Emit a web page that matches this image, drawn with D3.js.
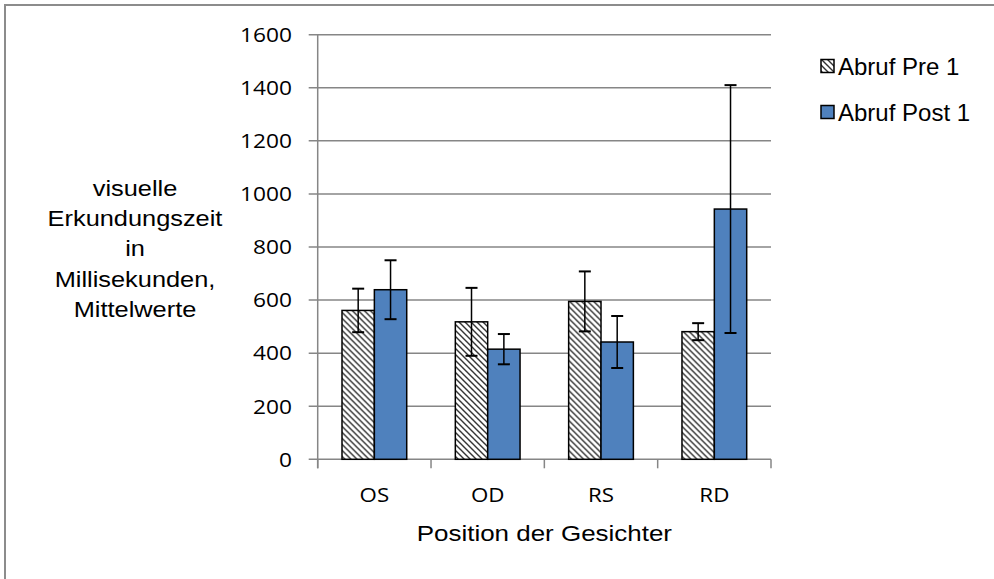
<!DOCTYPE html>
<html>
<head>
<meta charset="utf-8">
<script src="https://cdn.jsdelivr.net/npm/d3@7"></script>
<style>
  html, body { margin: 0; padding: 0; background: #fff; }
  svg { display: block; }
</style>
</head>
<body>
<svg id="chart" width="994" height="579"></svg>
<script>
const categories = ["OS", "OD", "RS", "RD"];
const seriesNames = ["Abruf Pre 1", "Abruf Post 1"];
const preValues = [561, 518, 595, 481];
const postValues = [639, 415, 442, 943];
const preErrors = [82, 128, 113, 32];
const postErrors = [111, 57, 98, 467];
const yTicks = [0, 200, 400, 600, 800, 1000, 1200, 1400, 1600];
const xTitle = "Position der Gesichter";
const yTitleLines = ["visuelle", "Erkundungszeit", "in", "Millisekunden,", "Mittelwerte"];

const svg = d3.select("#chart");
const plot = { left: 317.7, right: 771, top: 34.7, bottom: 459.3 };
const SX = 1.18;
const arial = "'Liberation Sans', Arial, sans-serif";
const calibri = "'Open Sans', sans-serif";
const gridColor = "#868686";
const blue = "#4F81BD";

const defs = svg.append("defs");
const P = 6;
const pat = defs.append("pattern")
  .attr("id", "hatch")
  .attr("patternUnits", "userSpaceOnUse")
  .attr("width", P).attr("height", P);
pat.append("rect").attr("width", P).attr("height", P).attr("fill", "#fff");
pat.append("path")
  .attr("d", `M-1,-1 L${P + 1},${P + 1} M-1,${P - 1} L1,${P + 1} M${P - 1},-1 L${P + 1},1`)
  .attr("stroke", "#333").attr("stroke-width", 1.4);

svg.append("rect").attr("x", 5).attr("y", 5).attr("width", 1100).attr("height", 700)
  .attr("fill", "none").attr("stroke", "#8c8c8c").attr("stroke-width", 2);

const y = d3.scaleLinear().domain([0, 1600]).range([plot.bottom, plot.top]);
const x0 = d3.scaleBand().domain(categories).range([plot.left, plot.right]).padding(0);
const x1 = d3.scaleBand().domain(seriesNames).range([24.3, x0.bandwidth() - 24.3]).padding(0);

function stretchedText(g, xPos, yPos, str, opts) {
  return g.append("g").attr("transform", `translate(${xPos},${yPos}) scale(${opts.sx || SX},1)`)
    .append("text")
    .attr("x", 0).attr("y", 0)
    .attr("text-anchor", opts.anchor || "middle")
    .attr("font-family", opts.font || arial)
    .attr("font-size", opts.size || 22)
    .attr("fill", "#000")
    .text(str);
}

const grid = svg.append("g");
grid.selectAll("line").data(yTicks).join("line")
  .attr("x1", plot.left - 9).attr("x2", plot.right)
  .attr("y1", d => y(d)).attr("y2", d => y(d))
  .attr("stroke", gridColor).attr("stroke-width", 1.5);

svg.append("line").attr("x1", plot.left).attr("x2", plot.left)
  .attr("y1", plot.top).attr("y2", plot.bottom + 9)
  .attr("stroke", gridColor).attr("stroke-width", 1.5);

const xBounds = categories.map(c => x0(c)).concat([plot.right]);
svg.append("g").selectAll("line").data(xBounds).join("line")
  .attr("x1", d => d).attr("x2", d => d)
  .attr("y1", plot.bottom).attr("y2", plot.bottom + 9)
  .attr("stroke", gridColor).attr("stroke-width", 1.5);

const ylab = svg.append("g");
yTicks.forEach(t => {
  stretchedText(ylab, 292, y(t) + 7.3, String(t), { anchor: "end", font: calibri, size: 20.3, sx: 1.12 });
});

const xlab = svg.append("g");
categories.forEach(c => {
  stretchedText(xlab, x0(c) + x0.bandwidth() / 2, 502, c, { font: calibri, size: 20.3, sx: 1.1 });
});

const rows = categories.map((c, i) => ({
  cat: c,
  vals: [
    { s: seriesNames[0], v: preValues[i], e: preErrors[i] },
    { s: seriesNames[1], v: postValues[i], e: postErrors[i] }
  ]
}));

const groups = svg.append("g").selectAll("g").data(rows).join("g")
  .attr("transform", d => `translate(${x0(d.cat)},0)`);

groups.selectAll("rect").data(d => d.vals).join("rect")
  .attr("x", d => x1(d.s))
  .attr("y", d => y(d.v))
  .attr("width", x1.bandwidth())
  .attr("height", d => y(0) - y(d.v))
  .attr("fill", d => d.s === seriesNames[0] ? "url(#hatch)" : blue)
  .attr("stroke", "#000").attr("stroke-width", 1.5);

const eb = groups.selectAll("g.err").data(d => d.vals).join("g").attr("class", "err");
const cx = d => x1(d.s) + x1.bandwidth() / 2;
eb.append("line")
  .attr("x1", cx).attr("x2", cx)
  .attr("y1", d => y(d.v + d.e)).attr("y2", d => y(d.v - d.e))
  .attr("stroke", "#000").attr("stroke-width", 1.5);
eb.append("line")
  .attr("x1", d => cx(d) - 6).attr("x2", d => cx(d) + 6)
  .attr("y1", d => y(d.v + d.e)).attr("y2", d => y(d.v + d.e))
  .attr("stroke", "#000").attr("stroke-width", 2);
eb.append("line")
  .attr("x1", d => cx(d) - 6).attr("x2", d => cx(d) + 6)
  .attr("y1", d => y(d.v - d.e)).attr("y2", d => y(d.v - d.e))
  .attr("stroke", "#000").attr("stroke-width", 2);

const titles = svg.append("g");
stretchedText(titles, (plot.left + plot.right) / 2, 540.7, xTitle, { size: 22 });
yTitleLines.forEach((l, i) => {
  stretchedText(titles, 135, 196 + i * 30.2, l, { size: 21.5 });
});

const leg = svg.append("g");
seriesNames.forEach((s, i) => {
  const yy = 59.5 + i * 46;
  leg.append("rect").attr("x", 821).attr("y", yy).attr("width", 13).attr("height", 13)
    .attr("fill", i === 0 ? "url(#hatch)" : blue)
    .attr("stroke", "#000").attr("stroke-width", 1.5);
  stretchedText(leg, 838, yy + 15.5, s, { anchor: "start", size: 24, sx: 1.0 });
});
</script>
</body>
</html>
